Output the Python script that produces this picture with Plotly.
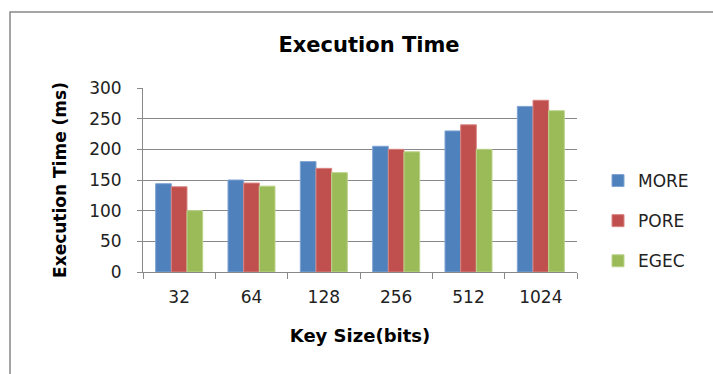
import plotly.graph_objects as go

key_sizes = ["32", "64", "128", "256", "512", "1024"]
more = [144, 150, 180, 205, 230, 270]
pore = [139, 145, 169, 200, 240, 280]
egec = [100, 140, 162, 196, 200, 263]

series = [
    ("MORE", more, "#4F81BD", "#7FA4D3"),
    ("PORE", pore, "#C0504D", "#D98583"),
    ("EGEC", egec, "#9BBB59", "#BCD38C"),
]

font_family = "DejaVu Sans, Verdana, sans-serif"

fig = go.Figure()
for name, vals, color, edge in series:
    fig.add_trace(go.Bar(
        x=key_sizes, y=vals, name=name, legendgroup=name,
        marker=dict(color=color, line=dict(color=edge, width=1)),
    ))

L, R, T, B = 143, 136, 88, 102
W, H = 713, 374
pw, ph = W - L - R, H - T - B

fig.update_layout(
    width=W, height=H,
    margin=dict(l=L, r=R, t=T, b=B),
    paper_bgcolor="white", plot_bgcolor="white",
    barmode="group", bargap=0.35, bargroupgap=0,
    font=dict(family=font_family, size=17, color="#222"),
    title=dict(text="<b>Execution Time</b>", x=369 / W, xanchor="center",
               y=1 - 45 / H, yanchor="middle",
               font=dict(size=21, color="#000")),
    legend=dict(x=(598 - L) / pw, y=(272 - 163) / ph, xanchor="left", yanchor="top",
                font=dict(size=17, color="#222"), itemwidth=30,
                tracegroupgap=15, bgcolor="rgba(0,0,0,0)"),
    showlegend=True,
    shapes=[dict(type="rect", xref="paper", yref="paper",
                 x0=(10 - L) / pw, x1=(730 - L) / pw,
                 y0=(272 - 400) / ph, y1=(272 - 12) / ph,
                 line=dict(color="#888", width=1.5), layer="below")],
)

fig.update_xaxes(
    title=dict(text="<b>Key Size(bits)</b>", font=dict(size=18, color="#000"), standoff=22),
    showline=True, linecolor="#888", linewidth=1,
    ticks="outside", tickson="boundaries", ticklen=6, tickcolor="#888",
    ticklabelstandoff=10,
    showgrid=False, tickfont=dict(size=17, color="#222"),
)
fig.update_yaxes(
    title=dict(text="<b>Execution Time (ms)</b>", font=dict(size=17, color="#000"), standoff=18),
    range=[0, 300], dtick=50,
    showline=True, linecolor="#888", linewidth=1,
    ticks="outside", ticklen=5, tickcolor="#888",
    ticklabelstandoff=12,
    showgrid=True, gridcolor="#888", gridwidth=1,
    zeroline=False, tickfont=dict(size=17, color="#222"),
)

fig.write_html("out.html")
